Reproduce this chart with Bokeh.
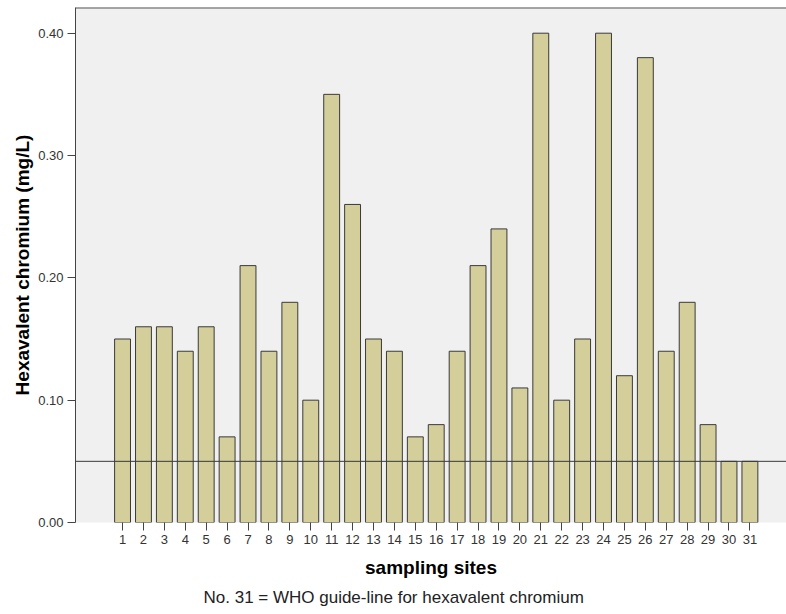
from bokeh.plotting import figure
from bokeh.models import ColumnDataSource, Span, Title, FixedTicker, NumeralTickFormatter, Range1d
from bokeh.embed import file_html
from bokeh.resources import INLINE

sites = list(range(1, 32))
values = [0.15, 0.16, 0.16, 0.14, 0.16, 0.07, 0.21, 0.14, 0.18, 0.10,
          0.35, 0.26, 0.15, 0.14, 0.07, 0.08, 0.14, 0.21, 0.24, 0.11,
          0.40, 0.10, 0.15, 0.40, 0.12, 0.38, 0.14, 0.18, 0.08, 0.05,
          0.05]
guideline = 0.05
y_ticks = [0.0, 0.1, 0.2, 0.3, 0.4]

src = ColumnDataSource(dict(x=sites, top=values))

p = figure(width=786, height=614, output_backend="svg", toolbar_location=None,
           x_range=Range1d(-1.25, 32.75), y_range=Range1d(0, 0.421),
           min_border_left=75, min_border_right=0, min_border_top=7,
           min_border_bottom=92)
p.background_fill_color = "#f0f0f0"
p.border_fill_color = "white"
p.outline_line_color = None
p.grid.visible = False

p.vbar(x="x", top="top", width=0.76, bottom=0, source=src,
       fill_color="#d3ce9a", line_color="#3a3a3a", line_width=1)

p.add_layout(Span(location=guideline, dimension="width", line_color="#3a3a3a", line_width=1))
p.add_layout(Span(location=0.421, dimension="width", line_color="#555555", line_width=2))

p.yaxis.ticker = FixedTicker(ticks=y_ticks)
p.yaxis.formatter = NumeralTickFormatter(format="0.00")
p.xaxis.ticker = FixedTicker(ticks=sites)

for ax in (p.xaxis, p.yaxis):
    ax.axis_line_color = "#444444"
    ax.major_tick_line_color = "#444444"
    ax.major_tick_out = 8
    ax.major_tick_in = 0
    ax.minor_tick_line_color = None
    ax.major_label_text_font = "Liberation Sans"
    ax.major_label_text_font_size = "13px"
    ax.major_label_text_color = "#333333"
    ax.axis_label_text_font = "Liberation Sans"
    ax.axis_label_text_font_style = "bold"
    ax.axis_label_text_font_size = "19px"
    ax.axis_label_text_color = "#000000"

p.yaxis.major_label_standoff = 4
p.yaxis.axis_label_standoff = 2
p.xaxis.major_label_standoff = 4
p.xaxis.axis_line_color = None
p.yaxis.axis_label = "Hexavalent chromium (mg/L)"
p.xaxis.axis_label = "sampling sites"
p.xaxis.axis_label_standoff = 10

p.add_layout(Title(text="No. 31 = WHO guide-line for hexavalent chromium",
                   align="left", offset=128, text_font="Liberation Sans",
                   text_font_size="17px", text_font_style="normal",
                   text_color="#222222"), "below")

open("out.html", "w").write(file_html(p, INLINE))
